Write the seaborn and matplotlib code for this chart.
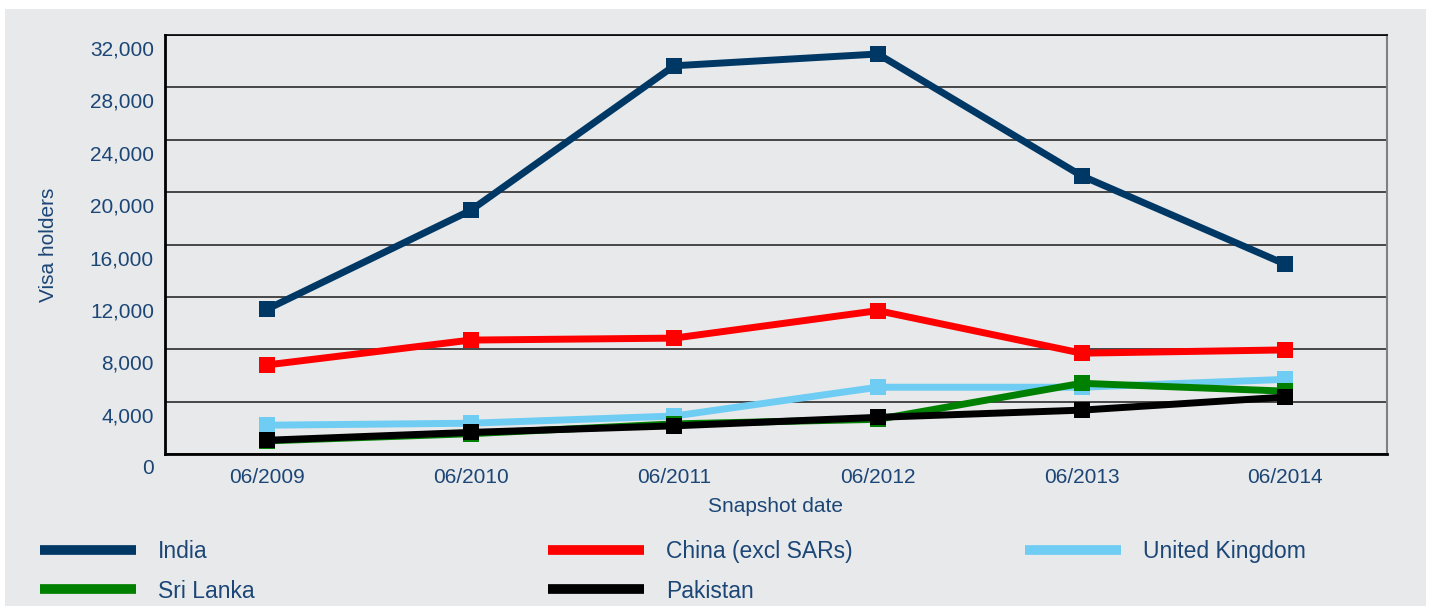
import matplotlib
matplotlib.use("Agg")
import matplotlib.pyplot as plt
from matplotlib.patches import Rectangle
from matplotlib.lines import Line2D
from matplotlib.transforms import ScaledTranslation
import seaborn as sns
import pandas as pd

# Snapshot dates and visa holder counts per country
dates = ["06/2009", "06/2010", "06/2011", "06/2012", "06/2013", "06/2014"]
india = [11050, 18600, 29650, 30550, 21250, 14500]
china = [6800, 8700, 8850, 10950, 7700, 7950]
united_kingdom = [2200, 2350, 2900, 5100, 5100, 5700]
sri_lanka = [1000, 1550, 2300, 2650, 5400, 4800]
pakistan = [1050, 1650, 2150, 2800, 3350, 4350]

countries = ["India", "China (excl SARs)", "United Kingdom", "Sri Lanka", "Pakistan"]
series = [india, china, united_kingdom, sri_lanka, pakistan]
colors = ["#003865", "#FF0000", "#6FCDF4", "#008000", "#000000"]
palette = dict(zip(countries, colors))

yticks = [0, 4000, 8000, 12000, 16000, 20000, 24000, 28000, 32000]

rows = []
for name, vals in zip(countries, series):
    for i, v in enumerate(vals):
        rows.append({"pos": i, "value": v, "country": name})
df = pd.DataFrame(rows)

sns.set_theme(style="white")
plt.rcParams["font.family"] = ["Liberation Sans", "DejaVu Sans"]

navy = "#1c4676"
W, H = 1433, 606
fig = plt.figure(figsize=(W / 100, H / 100), dpi=100)
fig.patch.set_facecolor("white")
fig.patches.append(Rectangle((5 / W, 0), (1426 - 5) / W, (H - 9) / H,
                             transform=fig.transFigure, facecolor="#E8E9EB",
                             edgecolor="none", zorder=-10))

ax = fig.add_axes([165 / W, (H - 454) / H, (1387 - 165) / W, (454 - 35) / H])
ax.set_facecolor("none")
ax.set_zorder(1)

sns.lineplot(data=df, x="pos", y="value", hue="country", hue_order=countries,
             palette=palette, marker="s", markersize=12.2, markeredgewidth=0,
             linewidth=5, sort=False, legend=False, ax=ax)

ax.set_xlim(-0.5, 5.5)
ax.set_ylim(0, 32000)
ax.set_xticks(range(len(dates)))
ax.set_xticklabels(dates)
ax.set_yticks(yticks)
ax.set_yticklabels([f"{v:,}" for v in yticks])
ax.tick_params(axis="both", length=0, labelsize=15, labelcolor=navy)
ax.tick_params(axis="y", pad=8)
ax.tick_params(axis="x", pad=10)

ax.yaxis.grid(True, color="#2b2b2b", linewidth=1.2)
ax.xaxis.grid(False)
ax.set_axisbelow(True)

for side in ("left", "bottom"):
    ax.spines[side].set_color("black")
    ax.spines[side].set_linewidth(2)
ax.spines["top"].set_color("black")
ax.spines["top"].set_linewidth(1.2)
ax.spines["right"].set_color("#808080")
ax.spines["right"].set_linewidth(1.5)
for s in ax.spines.values():
    s.set_visible(True)

ax.set_xlabel("Snapshot date", fontsize=15, color=navy)
ax.set_ylabel("Visa holders", fontsize=15, color=navy)
ax.xaxis.set_label_coords(0.5, -0.103)
ax.yaxis.set_label_coords(-0.0876, 0.5)

# value labels sit a little below their gridlines
shift = ScaledTranslation(0, -0.13, fig.dpi_scale_trans)
for lab in ax.get_yticklabels():
    lab.set_transform(lab.get_transform() + shift)

# legend in three columns
columns = [
    (40, ["India", "Sri Lanka"]),
    (548, ["China (excl SARs)", "Pakistan"]),
    (1025, ["United Kingdom"]),
]
for x0, names in columns:
    handles = [Line2D([], [], color=palette[n], linewidth=7, solid_capstyle="butt")
               for n in names]
    leg = fig.legend(handles, names, loc="upper left",
                     bbox_to_anchor=(x0 / W, (H - 540) / H),
                     bbox_transform=fig.transFigure, frameon=False,
                     fontsize=16.5, handlelength=4.2, handletextpad=0.95,
                     labelspacing=0.72, borderpad=0, borderaxespad=0)
    for t in leg.get_texts():
        t.set_color(navy)

fig.savefig("out.png", dpi=100, facecolor=fig.get_facecolor())
